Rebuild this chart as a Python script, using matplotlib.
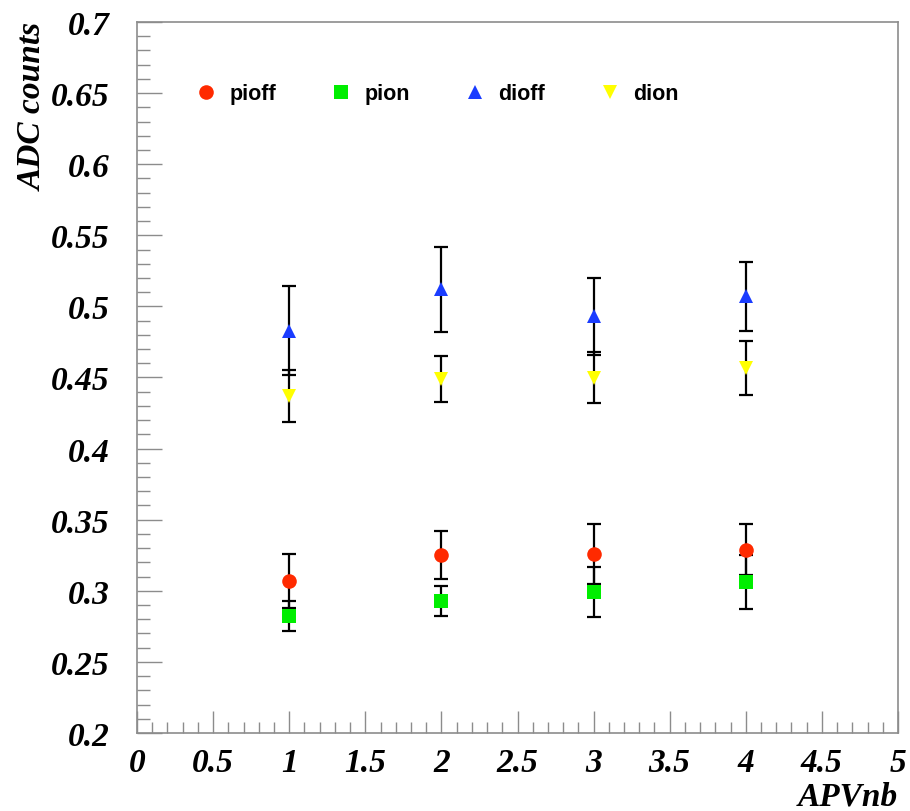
import numpy as np
import matplotlib.pyplot as plt
from matplotlib.ticker import MultipleLocator, FormatStrFormatter

# values
apv = [1, 2, 3, 4]
pioff = [0.307, 0.325, 0.326, 0.329]
pioff_err = [0.019, 0.017, 0.021, 0.018]
pion = [0.282, 0.293, 0.299, 0.306]
pion_err = [0.0105, 0.0105, 0.0176, 0.019]
dioff = [0.483, 0.512, 0.493, 0.507]
dioff_err = [0.031, 0.030, 0.027, 0.024]
dion = [0.437, 0.449, 0.450, 0.457]
dion_err = [0.018, 0.016, 0.018, 0.019]

series = [
    ("pioff", pioff, pioff_err, "o", "#ff2a00", 10.5),
    ("pion", pion, pion_err, "s", "#00ee00", 10.5),
    ("dioff", dioff, dioff_err, "^", "#1a3cff", 10.5),
    ("dion", dion, dion_err, "v", "#ffff00", 10.5),
]

fig = plt.figure(figsize=(9.1, 8.12), dpi=100)
ax = fig.add_axes([137 / 910, 1 - 734 / 812, 761 / 910, 711 / 812])

handles = []
for name, vals, errs, mk, col, ms in series:
    ax.errorbar(apv, vals, yerr=errs, fmt="none", ecolor="black",
                elinewidth=1.6, capsize=5, capthick=1.6, zorder=2)
    h, = ax.plot(apv, vals, linestyle="none", marker=mk, color=col,
                 markersize=ms, markeredgewidth=0, zorder=3, label=name)
    handles.append(h)

ax.set_xlim(0, 5)
ax.set_ylim(0.2, 0.7)
ax.xaxis.set_major_locator(MultipleLocator(0.5))
ax.xaxis.set_minor_locator(MultipleLocator(0.1))
ax.yaxis.set_major_locator(MultipleLocator(0.05))
ax.yaxis.set_minor_locator(MultipleLocator(0.01))
ax.xaxis.set_major_formatter(FormatStrFormatter("%g"))
ax.yaxis.set_major_formatter(FormatStrFormatter("%g"))

frame_col = "#8c8c8c"
for sp in ax.spines.values():
    sp.set_color(frame_col)
    sp.set_linewidth(1.2)

ax.tick_params(axis="both", which="both", direction="in", color=frame_col,
               width=1.0, top=False, right=False)
ax.tick_params(axis="x", which="major", length=16, pad=10)
ax.tick_params(axis="x", which="minor", length=8)
ax.tick_params(axis="y", which="major", length=18, pad=20)
ax.tick_params(axis="y", which="minor", length=9)

tick_font = dict(family="Liberation Serif", weight="bold", style="italic", size=24)
for lab in ax.get_xticklabels() + ax.get_yticklabels():
    lab.set_fontfamily(tick_font["family"])
    lab.set_fontweight("bold")
    lab.set_fontstyle("italic")
    lab.set_fontsize(24)

ax.set_ylabel("ADC counts", loc="top", labelpad=1, **tick_font)
ax.set_xlabel("APVnb", loc="right", labelpad=2, **tick_font)

ax.legend(handles=handles, loc="center", bbox_to_anchor=(0.394, 0.899),
          ncol=4, frameon=False, handlelength=1.0, handletextpad=0.6,
          columnspacing=2.5, prop=dict(family="Liberation Sans", weight="bold", size=15.5))

plt.savefig("out.png", dpi=100)
